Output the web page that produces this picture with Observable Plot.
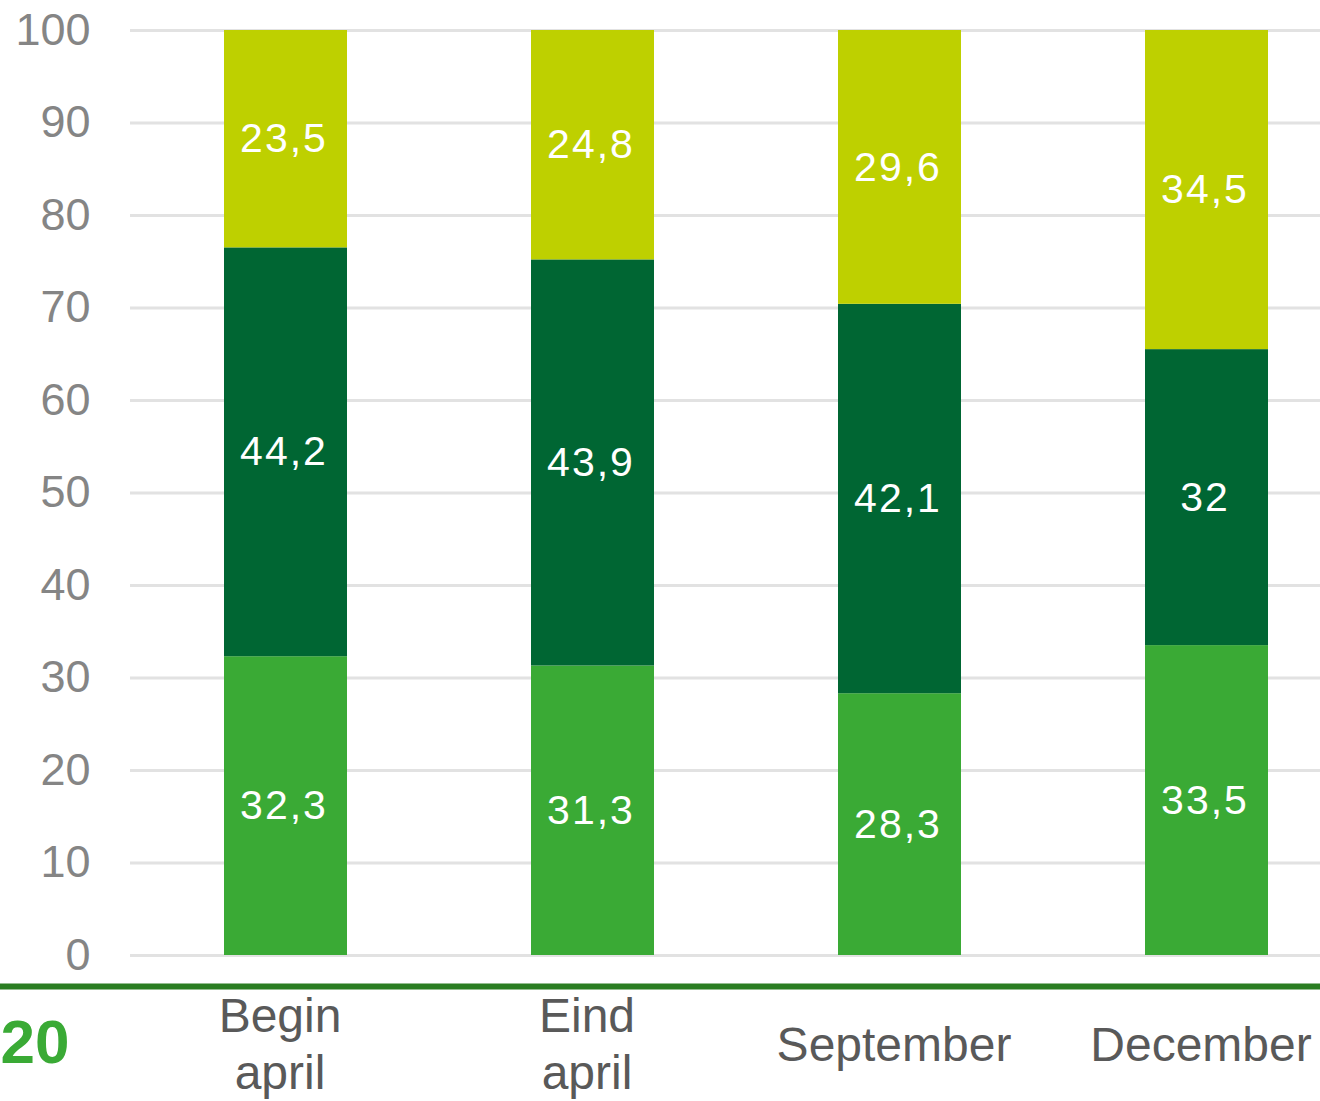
<!DOCTYPE html>
<html>
<head>
<meta charset="utf-8">
<script src="https://cdn.jsdelivr.net/npm/d3@7"></script>
<script src="https://cdn.jsdelivr.net/npm/@observablehq/plot@0.6"></script>
<style>
  html, body { margin: 0; padding: 0; background: #fff; overflow: hidden; }
  .vals text { letter-spacing: 2px; }
</style>
</head>
<body>
<div id="chart"></div>
<script>
const categories = ["Begin april", "Eind april", "September", "December"];
const categoryLabels = ["Begin\napril", "Eind\napril", "September", "December"];
const seriesNames = ["onder", "midden", "boven"];
const seriesBottom = [32.3, 31.3, 28.3, 33.5];
const seriesMiddle = [44.2, 43.9, 42.1, 32];
const seriesTop = [23.5, 24.8, 29.6, 34.5];
const seriesColors = ["#3aaa35", "#006633", "#bed000"];
const yTicks = [0, 10, 20, 30, 40, 50, 60, 70, 80, 90, 100];
const pageNumber = ["20"];

const seriesValues = [seriesBottom, seriesMiddle, seriesTop];
const data = [];
seriesNames.forEach((s, si) => {
  categories.forEach((c, ci) => {
    data.push({category: c, series: s, value: seriesValues[si][ci]});
  });
});
const fmt = v => String(v).replace(".", ",");

const chart = Plot.plot({
  width: 1320,
  height: 1101,
  marginTop: 30,
  marginBottom: 146,
  marginLeft: 130,
  marginRight: 0,
  style: {fontFamily: "'Liberation Sans', Arial, sans-serif", background: "#fff"},
  x: {domain: categories, range: [128, 1364], paddingInner: 0.6, paddingOuter: 0.31, align: 0.5, axis: null, label: null},
  y: {domain: [0, 100], axis: null, label: null},
  color: {domain: seriesNames, range: seriesColors},
  marks: [
    Plot.ruleY(yTicks, {stroke: "#e2e2e2", strokeWidth: 3}),
    Plot.axisY(yTicks, {tickSize: 0, tickPadding: 40, fontSize: 45, fill: "#858585", label: null, tickFormat: d => String(d)}),
    Plot.barY(data, {x: "category", y: "value", fill: "series"}),
    Plot.text(data, Plot.stackY({x: "category", y: "value", z: "series", text: d => fmt(d.value), fill: "white", fontSize: 41, dx: -2, className: "vals"})),
    Plot.axisX({tickSize: 0, tickPadding: 87, fontSize: 48, fill: "#595959", lineAnchor: "middle", lineHeight: 1.18, dx: -6, label: null,
      tickFormat: d => categoryLabels[categories.indexOf(d)]}),
    Plot.ruleY([0], {dy: 31, insetLeft: -130, stroke: "#2a7d22", strokeWidth: 6}),
    Plot.text(pageNumber, {frameAnchor: "bottom-left", dx: -130, dy: 88, textAnchor: "start", lineAnchor: "middle",
      fontSize: 62, fontWeight: "bold", fill: "#3aaa35"})
  ]
});
document.getElementById("chart").appendChild(chart);
</script>
</body>
</html>
